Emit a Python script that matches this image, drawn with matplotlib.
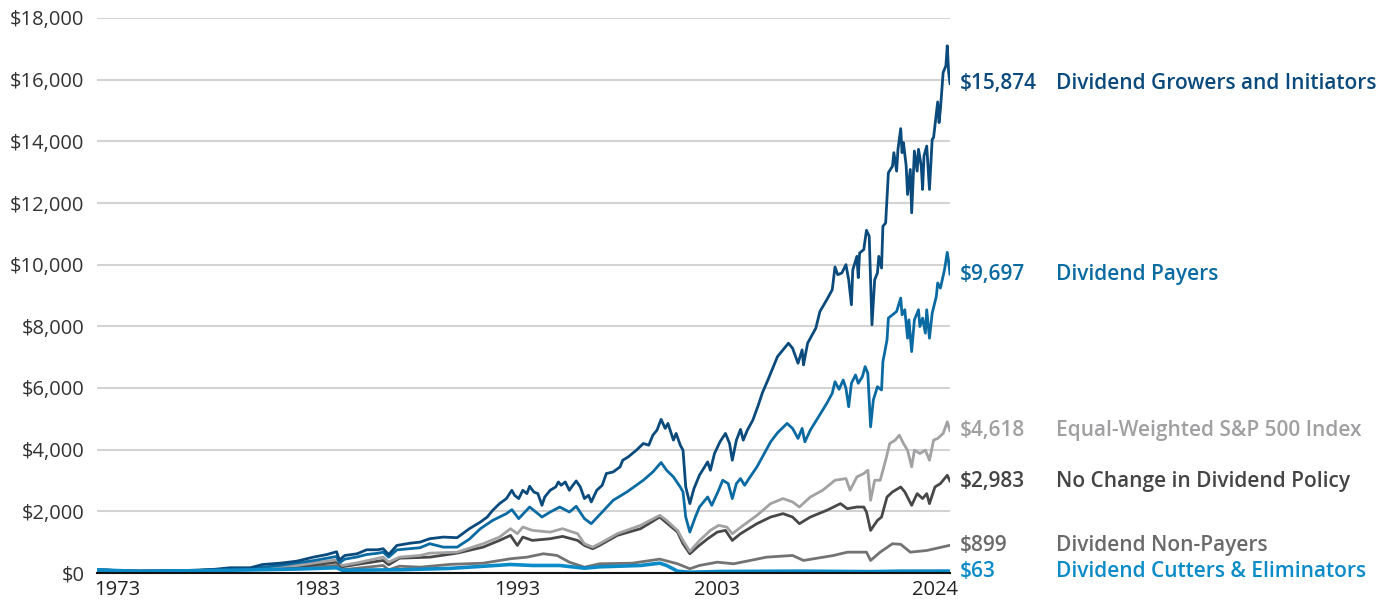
# Growth of $100 by dividend policy, 1973-2024
import matplotlib.pyplot as plt
from matplotlib.ticker import FuncFormatter

plt.rcParams['font.family'] = ['Open Sans', 'DejaVu Sans']

# Month index (0 = Jan 1973) and value readings for each series
growers_m = [0, 9, 20, 31, 42, 53, 64, 75, 86, 97,
             112, 121, 134, 146, 158, 168, 175, 177, 181, 190,
             197, 205, 209, 213, 219, 229, 236, 243, 253, 263,
             272, 280, 285, 289, 294, 299, 303, 305, 308, 311,
             314, 316, 319, 322, 325, 327, 331, 335, 337, 339,
             342, 345, 347, 350, 353, 356, 359, 361, 365, 369,
             372, 377, 382, 384, 388, 391, 394, 399, 403, 406,
             409, 412, 415, 417, 421, 423, 426, 428, 430, 433,
             436, 440, 446, 448, 451, 455, 459, 462, 464, 467,
             470, 472, 475, 479, 483, 486, 490, 494, 497, 501,
             505, 508, 512, 515, 516, 519, 525, 528, 533, 537,
             539, 541, 544, 547, 549, 551, 552, 555, 556, 557,
             560, 562, 564, 566, 568, 570, 571, 573, 574, 576,
             578, 581, 582, 584, 585, 587, 588, 589, 591, 592,
             594, 595, 597, 599, 600, 602, 603, 604, 606, 608,
             610, 611, 614, 615, 616, 618, 620, 621, 622, 623]
growers_v = [100, 90, 70, 60, 62, 75, 80, 95, 120, 170,
             170, 276, 319, 384, 514, 600, 690, 420, 569, 624,
             754, 754, 787, 600, 894, 969, 1002, 1112, 1165, 1145,
             1437, 1652, 1815, 2033, 2250, 2413, 2683, 2520, 2413, 2683,
             2575, 2813, 2628, 2575, 2195, 2465, 2683, 2790, 2953, 2845,
             2953, 2683, 2813, 2985, 2790, 2413, 2520, 2303, 2683, 2845,
             3226, 3278, 3441, 3658, 3766, 3876, 3984, 4200, 4146, 4471,
             4634, 4982, 4689, 4852, 4309, 4527, 4146, 3984, 2790, 2250,
             2738, 3171, 3603, 3333, 3876, 4254, 4527, 4200, 3658, 4309,
             4657, 4309, 4634, 4959, 5447, 5847, 6260, 6693, 7018, 7236,
             7453, 7291, 6803, 7236, 6748, 7453, 7941, 8482, 8862, 9187,
             9925, 9675, 9730, 10000, 9512, 8700, 9830, 10270, 9580, 10380,
             10488, 11115, 10920, 8049, 9512, 9730, 10270, 9890, 11246, 11354,
             12982, 13197, 13633, 13034, 13741, 14412, 13633, 13958, 13197, 12276,
             13088, 11681, 13685, 13034, 13741, 13197, 12439, 13523, 13847, 12439,
             14065, 14120, 15278, 14607, 15040, 16234, 16450, 17100, 16234, 15874]

payers_m = [0, 31, 75, 112, 134, 158, 175, 177, 181, 190,
            197, 205, 209, 213, 219, 236, 243, 253, 263, 272,
            280, 289, 299, 303, 308, 316, 322, 325, 331, 338,
            345, 350, 356, 361, 369, 377, 387, 399, 406, 412,
            416, 421, 426, 428, 430, 433, 437, 440, 444, 446,
            449, 454, 457, 461, 464, 467, 470, 473, 477, 482,
            486, 492, 497, 504, 508, 512, 515, 517, 521, 527,
            533, 537, 539, 542, 545, 547, 549, 551, 554, 556,
            559, 561, 563, 565, 567, 570, 573, 574, 577, 578,
            581, 584, 587, 588, 590, 592, 593, 595, 597, 600,
            601, 603, 605, 606, 608, 610, 613, 614, 616, 619,
            621, 622, 623]
payers_v = [100, 55, 85, 140, 250, 400, 537, 330, 450, 520,
            600, 640, 676, 514, 750, 820, 950, 839, 839, 1100,
            1437, 1707, 1925, 2055, 1763, 2140, 1925, 1815, 1978, 2140,
            1978, 2163, 1763, 1600, 1978, 2358, 2628, 3008, 3278, 3584,
            3333, 3116, 2790, 2628, 1815, 1327, 1815, 2140, 2358, 2465,
            2195, 2683, 3008, 2900, 2413, 2900, 3063, 2845, 3116, 3441,
            3766, 4254, 4547, 4852, 4689, 4364, 4689, 4254, 4634, 5067,
            5502, 5828, 6205, 5958, 6260, 5990, 5392, 6153, 6423, 6153,
            6368, 6693, 6478, 4741, 5610, 6042, 5935, 6855, 7561, 8267,
            8374, 8482, 8917, 8374, 8537, 7616, 8211, 7181, 8211, 8537,
            7994, 8267, 7779, 8537, 7616, 8428, 8970, 9405, 9240, 9837,
            10400, 10100, 9697]

equal_m = [0, 31, 75, 112, 121, 146, 175, 179, 190, 209,
           213, 221, 236, 243, 263, 282, 294, 302, 307, 311,
           318, 331, 340, 351, 356, 362, 367, 380, 397, 411,
           416, 424, 428, 433, 440, 448, 454, 460, 464, 472,
           482, 492, 501, 508, 513, 521, 530, 539, 547, 550,
           555, 560, 563, 565, 568, 572, 576, 579, 583, 586,
           589, 592, 595, 597, 601, 605, 608, 611, 614, 618,
           621, 623]
equal_v = [100, 60, 90, 150, 170, 244, 429, 244, 330, 514,
           351, 514, 569, 644, 676, 950, 1165, 1437, 1275, 1490,
           1382, 1327, 1437, 1275, 950, 839, 950, 1275, 1545, 1870,
           1707, 1382, 1057, 700, 1050, 1382, 1545, 1490, 1275, 1545,
           1870, 2250, 2413, 2305, 2140, 2465, 2683, 3008, 3063, 2683,
           3116, 3225, 3333, 2358, 3008, 3008, 3658, 4200, 4309, 4471,
           4200, 3984, 3441, 3984, 3875, 3984, 3658, 4309, 4363, 4527,
           4905, 4618]

nochange_m = [0, 31, 75, 112, 146, 175, 179, 190, 209, 213,
              221, 243, 263, 282, 294, 302, 307, 311, 318, 331,
              340, 351, 356, 362, 367, 380, 397, 411, 424, 428,
              433, 440, 446, 453, 459, 464, 470, 482, 492, 501,
              508, 513, 521, 533, 543, 548, 555, 560, 562, 565,
              570, 573, 577, 581, 587, 590, 595, 599, 603, 606,
              608, 612, 616, 621, 623]
nochange_v = [100, 60, 85, 140, 200, 351, 200, 280, 407, 267,
              481, 514, 644, 839, 1057, 1220, 894, 1165, 1057, 1112,
              1187, 1057, 894, 787, 894, 1220, 1437, 1815, 1327, 950,
              624, 900, 1110, 1327, 1382, 1057, 1275, 1600, 1815, 1925,
              1815, 1600, 1815, 2033, 2250, 2086, 2140, 2140, 1980, 1382,
              1707, 1815, 2465, 2630, 2790, 2630, 2195, 2574, 2413, 2574,
              2250, 2790, 2900, 3170, 2983]

nonpayers_m = [0, 31, 75, 112, 148, 175, 179, 209, 213, 221,
               236, 258, 282, 302, 314, 326, 336, 345, 356, 367,
               391, 411, 424, 433, 440, 453, 465, 489, 508, 516,
               538, 548, 562, 565, 572, 581, 587, 594, 606, 623]
nonpayers_v = [100, 60, 80, 120, 170, 244, 104, 244, 104, 221,
               190, 280, 319, 462, 514, 624, 569, 351, 189, 299,
               319, 450, 299, 137, 244, 351, 299, 514, 569, 407,
               569, 676, 676, 407, 676, 950, 930, 676, 730, 899]

cutters_m = [0, 31, 75, 112, 148, 175, 179, 221, 258, 302,
             318, 338, 356, 367, 397, 411, 416, 424, 433, 455,
             513, 565, 587, 623]
cutters_v = [100, 55, 75, 100, 130, 170, 90, 104, 150, 276,
             244, 244, 156, 200, 244, 319, 244, 59, 25, 50,
             60, 45, 60, 63]

# Labels shown at the right end of each line
names = ['Dividend Growers and Initiators', 'Dividend Payers',
         'Equal-Weighted S&P 500 Index', 'No Change in Dividend Policy',
         'Dividend Non-Payers', 'Dividend Cutters & Eliminators']
end_labels = ['$15,874', '$9,697', '$4,618', '$2,983', '$899', '$63']

tick_months = [15, 161, 307, 453, 612]
tick_labels = ['1973', '1983', '1993', '2003', '2024']

c_growers = '#0b4a7c'
c_payers = '#0a6aa2'
c_equal = '#a2a2a4'
c_nochange = '#484848'
c_nonpay = '#737373'
c_cutters = '#0b8bc8'

fig = plt.figure(figsize=(13.94, 6.07), dpi=100)
ax = fig.add_axes([97/1394, 34/607, 853/1394, 555/607])

ax.plot(nonpayers_m, nonpayers_v, color=c_nonpay, lw=2, zorder=3)
ax.plot(nochange_m, nochange_v, color=c_nochange, lw=2, zorder=4)
ax.plot(equal_m, equal_v, color=c_equal, lw=2, zorder=5)
ax.plot(payers_m, payers_v, color=c_payers, lw=2, zorder=6)
ax.plot(growers_m, growers_v, color=c_growers, lw=2, zorder=7)
ax.plot(cutters_m, cutters_v, color=c_cutters, lw=2.6, zorder=8)

ax.set_xlim(0, 623)
ax.set_ylim(0, 18000)
ax.set_yticks(range(0, 18001, 2000))
ax.yaxis.set_major_formatter(FuncFormatter(lambda v, p: '${:,.0f}'.format(v)))
ax.set_xticks(tick_months)
ax.set_xticklabels(tick_labels)
ax.tick_params(axis='y', length=0, pad=9, labelsize=14.5, labelcolor='#333333')
ax.tick_params(axis='x', length=0, pad=5, labelsize=14.5, labelcolor='#222222')

ax.grid(axis='y', color='#d3d3d3', lw=1.5, zorder=0)
for s in ['top', 'right', 'left']:
    ax.spines[s].set_visible(False)
ax.spines['bottom'].set_color('#111111')
ax.spines['bottom'].set_linewidth(1.5)
ax.spines['bottom'].set_zorder(9)

# End-of-line annotations
ends = [growers_v[-1], payers_v[-1], equal_v[-1], nochange_v[-1],
        nonpayers_v[-1], cutters_v[-1]]
colors = [c_growers, c_payers, '#a0a0a2', '#444444', '#6a6a6a', c_cutters]
for name, lab, y, c in zip(names, end_labels, ends, colors):
    ax.annotate(lab, xy=(1, y), xycoords=('axes fraction', 'data'),
                xytext=(7, 0), textcoords='offset points', va='center',
                ha='left', fontsize=15, fontweight='semibold', color=c,
                annotation_clip=False)
    ax.annotate(name, xy=(1, y), xycoords=('axes fraction', 'data'),
                xytext=(76, 0), textcoords='offset points', va='center',
                ha='left', fontsize=15, fontweight='semibold', color=c,
                annotation_clip=False)

fig.savefig('out.png', dpi=100)
